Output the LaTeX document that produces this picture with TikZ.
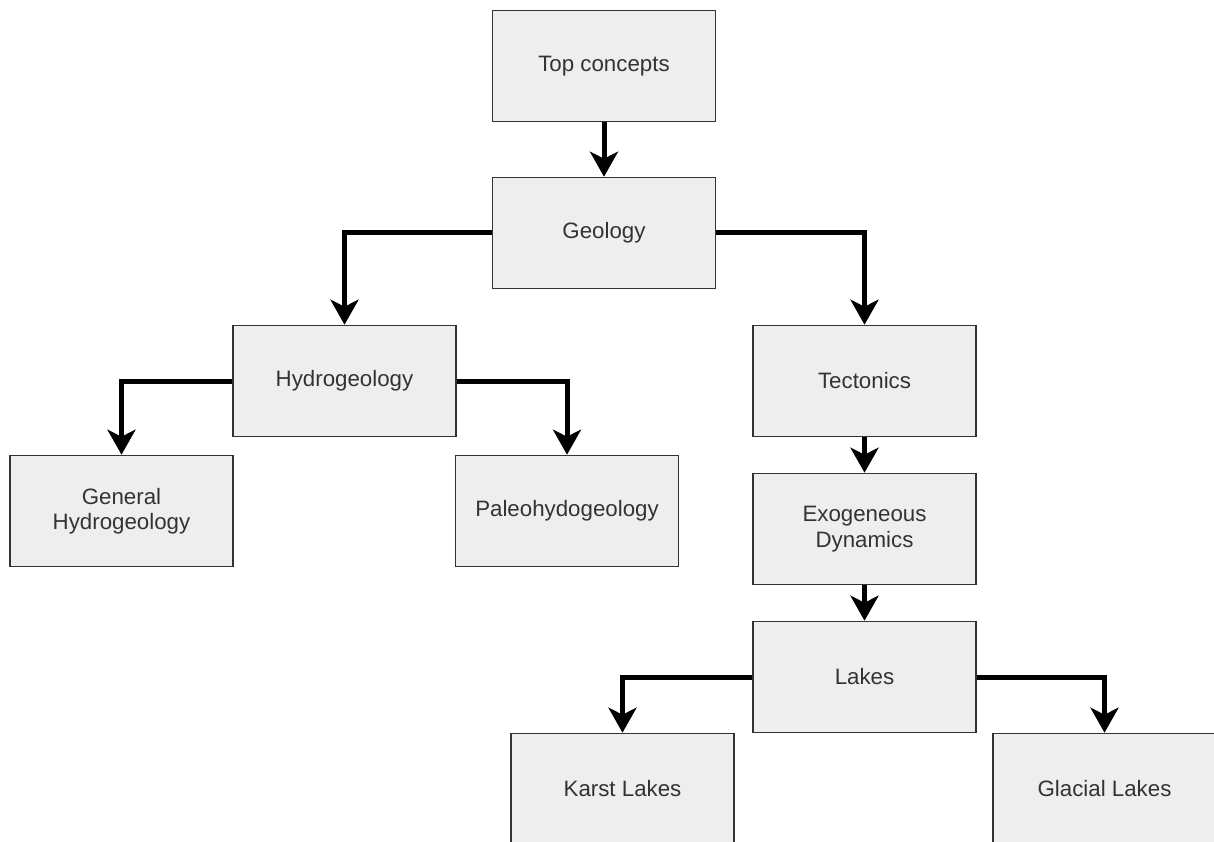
\documentclass[tikz,border=0pt]{standalone}
\usepackage{fontspec}
\setmainfont{Liberation Sans}
\usetikzlibrary{arrows.meta}
\definecolor{boxfill}{HTML}{EEEEEE}
\definecolor{boxline}{HTML}{333333}
\definecolor{labeltext}{HTML}{333333}
\tikzset{
  concept/.style={draw=boxline, line width=1.6pt, fill=boxfill,
    minimum width=223pt, minimum height=111pt, inner sep=0pt,
    align=center, text=labeltext,
    font=\fontsize{22.3}{25.5}\selectfont},
  link/.style={line width=5pt, draw=black,
    -{Stealth[length=25pt, width=28pt, inset=7pt]}},
}
\begin{document}
\begin{tikzpicture}[x=1pt, y=-1pt]
  \clip (0,0) rectangle (1214,842);
  \fill[white] (0,0) rectangle (1214,842);

  % concept boxes
  \node[concept] (top)   at (604,66)    {Top concepts};
  \node[concept] (geo)   at (604,233)   {Geology};
  \node[concept] (hydro) at (344.5,381) {Hydrogeology};
  \node[concept] (tect)  at (864.5,381) {Tectonics};
  \node[concept] (gen)   at (121.5,511) {General\\Hydrogeology};
  \node[concept] (paleo) at (567,511)   {Paleohydogeology};
  \node[concept] (exo)   at (864.5,529) {Exogeneous\\Dynamics};
  \node[concept] (lakes) at (864.5,677) {Lakes};
  \node[concept] (karst) at (622.5,789) {Karst Lakes};
  \node[concept] (glac)  at (1104.5,789) {Glacial Lakes};

  % hierarchy connectors
  \draw[link] (top.south) -- (geo.north);
  \draw[link] (geo.west) -| (hydro.north);
  \draw[link] (geo.east) -| (tect.north);
  \draw[link] (hydro.west) -| (gen.north);
  \draw[link] (hydro.east) -| (paleo.north);
  \draw[link] (tect.south) -- (exo.north);
  \draw[link] (exo.south) -- (lakes.north);
  \draw[link] (lakes.west) -| (karst.north);
  \draw[link] (lakes.east) -| (glac.north);
\end{tikzpicture}
\end{document}
